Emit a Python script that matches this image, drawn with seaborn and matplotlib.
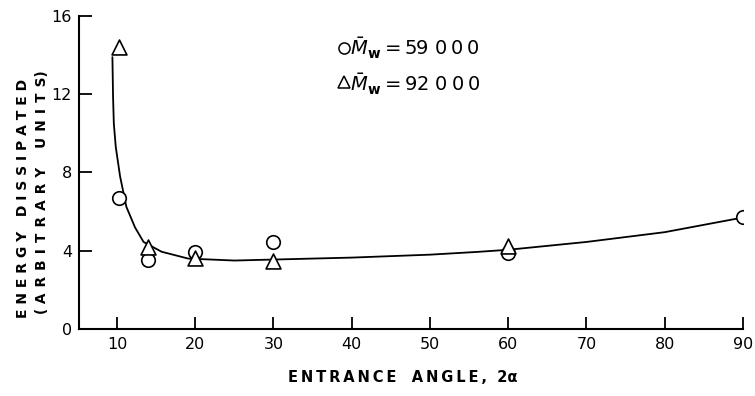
import numpy as np
import pandas as pd
import matplotlib
matplotlib.use("Agg")
import matplotlib.pyplot as plt
import seaborn as sns

# Data
angle_59k = [10.25, 14, 20, 30, 60, 90]
energy_59k = [6.7, 3.55, 3.95, 4.45, 3.9, 5.7]
angle_92k = [10.25, 14, 20, 30, 60]
energy_92k = [14.4, 4.2, 3.65, 3.5, 4.25]

curve_x = [9.42, 9.5, 9.6, 9.85, 10.4, 11.2, 12.3, 13.4, 15.7, 19.1,
           25, 30, 40, 50, 56, 60, 70, 80, 90]
curve_y = [13.9, 11.9, 10.5, 9.3, 7.8, 6.25, 5.2, 4.45, 3.95, 3.6,
           3.5, 3.55, 3.65, 3.8, 3.94, 4.05, 4.45, 4.95, 5.7]

x_ticks = [10, 20, 30, 40, 50, 60, 70, 80, 90]
y_ticks = [0, 4, 8, 12, 16]

sns.set_theme(style="ticks")
plt.rcParams['font.family'] = ['DejaVu Sans']
plt.rcParams['text.color'] = 'black'
plt.rcParams['axes.labelcolor'] = 'black'

fig = plt.figure(figsize=(7.55, 3.96), dpi=100)
ax = fig.add_axes([79/755, 67/396, (743-79)/755, (329-16)/396])

curve_df = pd.DataFrame({"x": curve_x, "y": curve_y})
sns.lineplot(data=curve_df, x="x", y="y", sort=False, color="black", lw=1.3, ax=ax)

df59 = pd.DataFrame({"x": angle_59k, "y": energy_59k})
df92 = pd.DataFrame({"x": angle_92k, "y": energy_92k})
sns.scatterplot(data=df59, x="x", y="y", marker="o", s=95, facecolor="white",
                edgecolor="black", linewidth=1.2, ax=ax, zorder=3)
sns.scatterplot(data=df92, x="x", y="y", marker="^", s=115, facecolor="white",
                edgecolor="black", linewidth=1.2, ax=ax, zorder=3)

ax.set_xlim(5.15, 90)
ax.set_ylim(0, 16)
ax.set_xticks(x_ticks)
ax.set_yticks(y_ticks)
ax.tick_params(direction="in", length=9, width=1.3, labelsize=11.5, colors="black", pad=6)
ax.tick_params(axis="y", pad=5)
for s in ["top", "right"]:
    ax.spines[s].set_visible(False)
for s in ["left", "bottom"]:
    ax.spines[s].set_linewidth(1.5)
    ax.spines[s].set_color("black")
ax.set_xlabel("")
ax.set_ylabel("")

ts = "\u2009"
def spaced(t, sep):
    return sep.join(t)

fig.text(403/755, 1 - 378/396, spaced("ENTRANCE", ts) + "   " + spaced("ANGLE,", ts) + "  2α",
         fontsize=10.5, fontweight="bold", ha="center", va="center")
fig.text(23/755, 1 - 198/396, spaced("ENERGY", " ") + "   " + spaced("DISSIPATED", " "),
         fontsize=10, fontweight="bold", ha="center", va="center", rotation=90)
fig.text(42/755, 1 - 192/396, "( " + spaced("ARBITRARY", " " + "\u200a") + "    " + spaced("UNITS", " " + "\u200a") + ")",
         fontsize=9.8, fontweight="bold", ha="center", va="center", rotation=90)

# legend-like annotation
yl1 = (329 - 48) / 313
yl2 = (329 - 84) / 313
xm = (344 - 79) / (743 - 79)
ax.plot([xm], [yl1], transform=ax.transAxes, marker="o", ms=8, mfc="white",
        mec="black", mew=1.1, clip_on=False)
ax.text(xm + 0.009, yl1, r"$\bar{M}_{\mathbf{w}}$" + ts + "=" + ts + "59 " + spaced("000", ts),
        transform=ax.transAxes, fontsize=14, va="center", ha="left")
ax.plot([xm], [yl2 + 0.005], transform=ax.transAxes, marker="^", ms=9, mfc="white",
        mec="black", mew=1.1, clip_on=False)
ax.text(xm + 0.009, yl2, r"$\bar{M}_{\mathbf{w}}$" + ts + "=" + ts + "92 " + spaced("000", ts),
        transform=ax.transAxes, fontsize=14, va="center", ha="left")

fig.savefig("out.png", dpi=100)
